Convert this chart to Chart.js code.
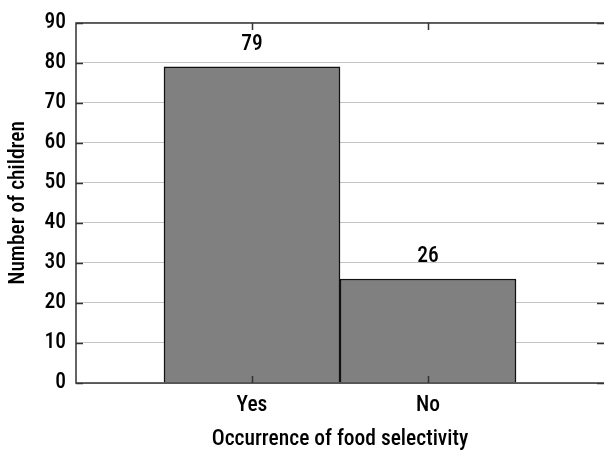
<!DOCTYPE html>
<html>
<head>
<meta charset="utf-8">
<script src="https://cdn.jsdelivr.net/npm/chart.js@4"></script>
<style>
  html, body { margin:0; padding:0; background:#fff; overflow:hidden; }
</style>
</head>
<body>
<canvas id="chart" width="604" height="454"></canvas>
<script>
// ---------- data ----------
const categories = ['', 'Yes', 'No', ''];
const children = [null, 79, 26, null];
const yTicks = [0, 10, 20, 30, 40, 50, 60, 70, 80, 90];

const FAMILY = "Roboto, sans-serif";
const STRETCH = 'condensed 500';   // goes into the weight slot of the canvas font string
const font = {family:FAMILY, size:21.5, weight:STRETCH};

// frame (right side is cut off by the picture edge), inward ticks, value labels
const framePlugin = {
  id: 'frame',
  afterDatasetsDraw(chart){
    const {ctx, chartArea:a, scales:{x, y}} = chart;
    ctx.save();
    ctx.strokeStyle = '#333';
    ctx.lineWidth = 1.5;
    ctx.beginPath();
    yTicks.forEach(v=>{
      const py = Math.round(y.getPixelForValue(v)) + 0.5;
      ctx.moveTo(a.left, py); ctx.lineTo(a.left + 7, py);
      ctx.moveTo(a.right, py); ctx.lineTo(a.right - 7, py);
    });
    categories.forEach((c, i)=>{
      if(!c) return;
      const px = Math.round(x.getPixelForValue(i)) + 0.5;
      ctx.moveTo(px, a.top); ctx.lineTo(px, a.top + 7);
      ctx.moveTo(px, a.bottom); ctx.lineTo(px, a.bottom - 7);
    });
    ctx.moveTo(a.right, a.top); ctx.lineTo(a.left, a.top);
    ctx.lineTo(a.left, a.bottom); ctx.lineTo(a.right, a.bottom);
    ctx.stroke();

    ctx.fillStyle = '#000';
    ctx.font = STRETCH + ' 21.5px ' + FAMILY;
    ctx.textAlign = 'center';
    ctx.textBaseline = 'middle';
    children.forEach((v, i)=>{
      if(v == null) return;
      ctx.fillText(String(v), x.getPixelForValue(i), y.getPixelForValue(v) - 22);
    });
    ctx.restore();
  }
};

new Chart(document.getElementById('chart'), {
  type:'bar',
  data:{
    labels:categories,
    datasets:[{
      data:children,
      backgroundColor:'#808080',
      borderColor:'#111',
      borderWidth:1.5,
      categoryPercentage:1,
      barPercentage:1
    }]
  },
  options:{
    responsive:false,
    animation:false,
    layout:{ padding:{ top:20, right:0, left:0, bottom:0 } },
    plugins:{ legend:{display:false}, tooltip:{enabled:false} },
    scales:{
      x:{
        type:'category',
        offset:false,
        grid:{ display:false, drawTicks:false },
        border:{ display:false },
        ticks:{ autoSkip:false, maxRotation:0, padding:10, color:'#000', font:font },
        title:{ display:true, text:'Occurrence of food selectivity', color:'#000',
                font:font, padding:{top:0, bottom:1} },
        afterFit(s){ s.height = 71; s.paddingLeft = 0; s.paddingRight = 0; }
      },
      y:{
        min:0, max:90,
        afterBuildTicks(s){ s.ticks = yTicks.map(v=>({value:v})); },
        grid:{ color:'#c4c4c4', lineWidth:1, drawTicks:false },
        border:{ display:false },
        ticks:{ padding:10, color:'#000', font:font },
        title:{ display:true, text:'Number of children', color:'#000',
                font:font, padding:{top:6, bottom:0} },
        afterFit(s){ s.width = 76; }
      }
    }
  },
  plugins:[framePlugin]
});
</script>
</body>
</html>
